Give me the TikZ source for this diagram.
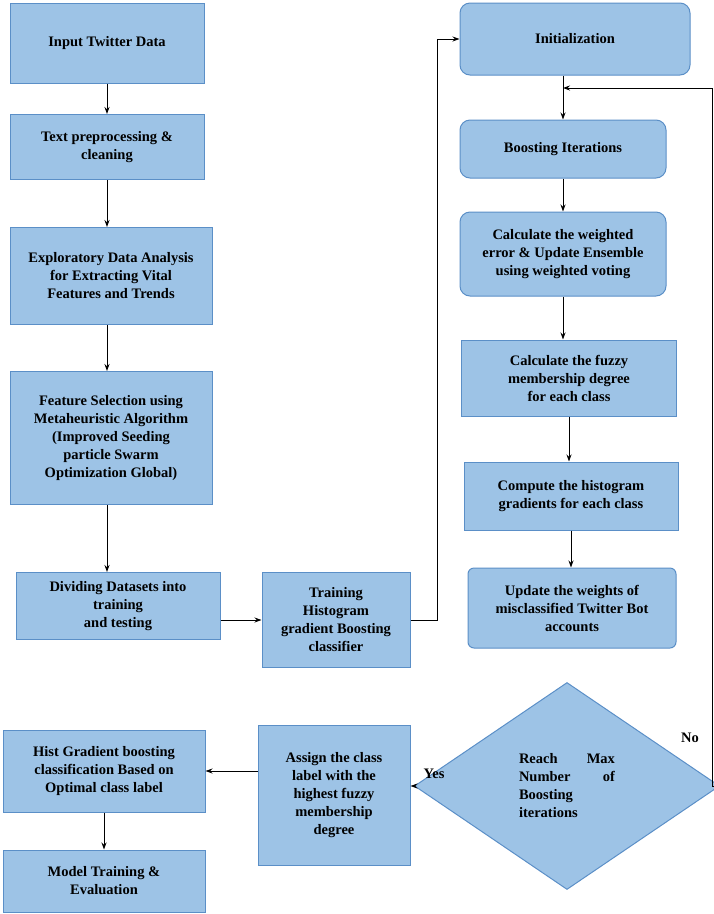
\documentclass[tikz,border=0pt]{standalone}
\usepackage{fontspec}
\setmainfont{Liberation Serif}
\usetikzlibrary{shapes.geometric,arrows.meta}
\definecolor{bfill}{HTML}{9DC3E6}
\definecolor{bdraw}{HTML}{5B8FC7}
\begin{document}
\begin{tikzpicture}[x=1pt,y=-1pt,
  box/.style={draw=bdraw,fill=bfill,line width=1pt,align=center,font=\fontsize{14.5}{18}\selectfont\bfseries,inner sep=2pt},
  rbox/.style={box,rounded corners=10pt},
  lab/.style={font=\fontsize{14.5}{18}\selectfont\bfseries},
  arr/.style={-{Stealth[length=7pt,width=5pt]},line width=0.9pt,black}]
\useasboundingbox (0,0) rectangle (714,914);
\node[box,minimum width=194pt,minimum height=80pt] (a) at (107,43) {Input Twitter Data};
\node[box,minimum width=194pt,minimum height=65pt] (b) at (107,147) {Text preprocessing \&\\cleaning};
\node[box,minimum width=202pt,minimum height=97pt] (c) at (111,276) {Exploratory Data Analysis\\for Extracting Vital\\Features and Trends};
\node[box,minimum width=202pt,minimum height=133pt] (d) at (111,438) {Feature Selection using\\Metaheuristic Algorithm\\(Improved Seeding\\particle Swarm\\Optimization Global)};
\node[box,minimum width=204pt,minimum height=67pt] (e) at (118,606) {Dividing Datasets into\\training\\and testing};
\node[box,minimum width=148pt,minimum height=95pt] (f) at (336,620) {Training\\Histogram\\gradient Boosting\\classifier};
\node[rbox,minimum width=230pt,minimum height=72pt] (g) at (575,39) {Initialization};
\node[rbox,minimum width=206pt,minimum height=58pt] (h) at (563,149) {Boosting Iterations};
\node[rbox,minimum width=206pt,minimum height=84pt] (i) at (563,254) {Calculate the weighted\\error \& Update Ensemble\\using weighted voting};
\node[box,minimum width=215pt,minimum height=76pt] (j) at (569,378) {Calculate the fuzzy\\membership degree\\for each class};
\node[box,minimum width=214pt,minimum height=68pt] (k) at (571,496) {Compute the histogram\\gradients for each class};
\node[rbox,rounded corners=6pt,minimum width=208pt,minimum height=80pt] (l) at (572,608) {Update the weights of\\misclassified Twitter Bot\\accounts};
\node[box,diamond,minimum width=305pt,minimum height=207pt,inner sep=0pt] (m) at (567,786) {\parbox{96pt}{Reach\hfill Max\\Number\hfill of\\Boosting\\iterations}};
\node[box,minimum width=152pt,minimum height=140pt] (n) at (334,795) {Assign the class\\label with the\\highest fuzzy\\membership\\degree};
\node[box,minimum width=202pt,minimum height=82pt] (o) at (104,771) {Hist Gradient boosting\\classification Based on\\Optimal class label};
\node[box,minimum width=202pt,minimum height=62pt] (p) at (104,881) {Model Training \&\\Evaluation};
\draw[arr] (a.south) -- (b.north);
\draw[arr] (b.south) -- (b.south |- c.north);
\draw[arr] (c.south -| b.south) -- (b.south |- d.north);
\draw[arr] (d.south -| b.south) -- (b.south |- e.north);
\draw[arr] (e.east |- f.west) -- (f.west);
\draw[arr] (f.east) -- ++(27,0) |- (g.west);
\draw[arr] (g.south -| h.north) -- (h.north);
\draw[arr] (h.south) -- (i.north);
\draw[arr] (i.south) -- (i.south |- j.north);
\draw[arr] (j.south) -- (j.south |- k.north);
\draw[arr] (k.south) -- (k.south |- l.north);
\coordinate (lp) at (563,88);
\coordinate (c1) at (712,786);
\coordinate (c2) at (712,88);
\draw[arr] (m.east) -- (c1) -- (c2) -- (lp);
\node[lab] (no) at (690,738) {No};
\draw[arr] (m.west) -- (m.west -| n.east);
\node[lab] (yes) at (434,774) {Yes};
\draw[arr] (n.west |- o.east) -- (o.east);
\draw[arr] (o.south) -- (p.north);
\end{tikzpicture}
\end{document}
